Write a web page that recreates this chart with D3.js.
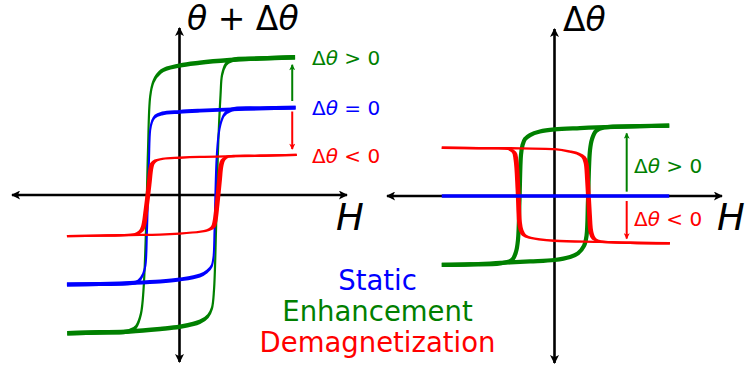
<!DOCTYPE html>
<html>
<head>
<meta charset="utf-8">
<script src="https://cdn.jsdelivr.net/npm/d3@7"></script>
<style>
  html, body { margin: 0; padding: 0; background: #fff; }
  svg { display: block; }
  text { font-family: "DejaVu Sans", Verdana, sans-serif; }
</style>
</head>
<body>
<svg id="chart" width="745" height="367"></svg>
<script>
// ---- Data (arbitrary field / angle units, origin at the axis crossing) ----

// Left panel: total angle theta + delta-theta versus H
const leftGreenDown = [[69,82.5],[48,81.8],[30,80.8],[12,79.2],[0,77.5],[-11,74],[-15.5,68],[-17.5,59],[-18.8,27],[-20,-21],[-21.5,-57],[-23,-71],[-26,-79],[-30,-81.5],[-48,-82.2],[-67,-82.8]];
const leftGreenUp   = [[-67,-82.8],[-47.5,-82.3],[-29.6,-81.7],[-11.6,-80.2],[0,-78.9],[12.2,-75.9],[17,-72.5],[19.4,-67.7],[20.6,-56.9],[21.8,-21],[23,27],[24.5,59.9],[25.4,71.9],[27.8,78.4],[31.3,80.8],[48,81.7],[69,82.5]];

const leftBlueDown = [[69.3,52.3],[48.1,51.9],[31.3,51.3],[12.2,50.5],[0,49.8],[-10.4,48.8],[-14.6,47],[-16.4,44],[-17.5,38.9],[-18.2,21],[-19.4,-21],[-20.3,-41.9],[-21.8,-47.6],[-24.8,-51.8],[-29.6,-52.9],[-47.5,-53.3],[-67.2,-53.6]];
const leftBlueUp   = [[-67.2,-53.6],[-47.5,-53.3],[-29.6,-52.7],[-11.6,-51.8],[0,-50.6],[12.2,-48.2],[16.4,-45.8],[19.2,-42.5],[20.3,-37.1],[20.9,-21],[22.1,21],[23.3,35.9],[24.5,42.5],[26.6,47.9],[31.3,51.2],[48.1,51.9],[69.3,52.3]];

const leftRedDown = [[70,24],[48.1,23.5],[30.1,23.2],[12.2,22.8],[0,22.3],[-9.9,21.7],[-14,20.7],[-16.1,18.9],[-17,16.2],[-18.2,6],[-20,-9],[-21.5,-18.6],[-23,-21.6],[-26,-23.4],[-35.5,-24.1],[-47.5,-24.3],[-67.2,-24.6]];
const leftRedUp   = [[-67.2,-24.6],[-47.5,-24.3],[-29.6,-24],[-11.6,-23.7],[0,-23.1],[12.2,-22],[17,-21],[20,-19.2],[21.2,-15.6],[22.4,-6],[23.9,9],[24.8,17.4],[26,21],[28.4,22.8],[33.1,23.4],[48.1,23.5],[70,24]];

// Right panel: delta-theta versus H
const rightGreenDown = [[68.5,42.1],[51,41.8],[30.1,41.3],[15.2,40.7],[0,39.9],[-8.7,38.6],[-14.6,36.5],[-17.6,34.1],[-19.1,30.5],[-20,24.6],[-20.9,-2.4],[-21.8,-26.3],[-23,-33.5],[-25.4,-38.3],[-32.5,-40.4],[-50.4,-41],[-67.3,-41.3]];
const rightGreenUp   = [[-67.3,-41.3],[-50.4,-41],[-32.5,-40.1],[-14.6,-39.2],[0,-38.3],[9.3,-36.5],[14,-34.4],[17.6,-29.9],[19.1,-24],[20,-2.4],[21.2,27.5],[22.4,34.1],[24.8,38.9],[29.6,41],[51,41.8],[68.5,42.1]];

const rightRedUp   = [[-67.3,28.9],[-44.5,28.7],[-26.6,28.6],[0,28],[9.3,26.6],[14,25.4],[17.3,23.4],[18.8,19.8],[19.7,9.6],[20.9,-11.4],[21.8,-21.6],[23.6,-25.7],[27.2,-27.2],[45.1,-28],[68.9,-28.3]];
const rightRedDown = [[68.9,-28.3],[45.1,-28],[27.2,-27.5],[0,-26.8],[-14.6,-25],[-18.2,-23.4],[-20,-20.4],[-20.9,-15.6],[-21.8,3.6],[-23,21.6],[-24.2,26.3],[-27.2,28.1],[-38.5,28.5],[-67.3,28.9]];

const rightBlue = [[-67.3,0],[68.5,0]];

// Change indicators: [H, from, to, colour]
const leftArrows  = [[67.3, 56.3, 78, "green"], [67.3, 50, 27.5, "red"]];
const rightArrows = [[43.1, 2.6, 37.5, "green"], [43.1, -3, -25.5, "red"]];

// Labels: [prefix, italic symbol, relation, baseline value, colour]
const leftLabels  = [["Δ", "θ", " > 0", 77.8, "green"], ["Δ", "θ", " = 0", 48.2, "blue"], ["Δ", "θ", " < 0", 19.2, "red"]];
const rightLabels = [["Δ", "θ", " > 0", 13.8, "green"], ["Δ", "θ", " < 0", -18.2, "red"]];
const legendNames = ["Static", "Enhancement", "Demagnetization"];
const legendColors = ["blue", "green", "red"];

const COLORS = { green: "#008000", blue: "#0000ff", red: "#ff0000" };

// ---- Scales ----
const xL = d3.scaleLinear().domain([-100, 100]).range([12, 347]);
const yL = d3.scaleLinear().domain([-100, 100]).range([362, 28]);
const xR = d3.scaleLinear().domain([-100, 100]).range([387, 722]);
const yR = d3.scaleLinear().domain([-100, 100]).range([363, 29]);

const svg = d3.select("#chart");

// Arrowhead markers
const defs = svg.append("defs");
function marker(id, color, w, h) {
  defs.append("marker")
    .attr("id", id)
    .attr("viewBox", "0 -5 10 10")
    .attr("refX", 9).attr("refY", 0)
    .attr("markerUnits", "userSpaceOnUse")
    .attr("markerWidth", w).attr("markerHeight", h)
    .attr("orient", "auto-start-reverse")
    .append("path")
    .attr("d", "M0,-5L10,0L0,5L2.5,0Z")
    .attr("fill", color);
}
marker("axisHead", "#000", 14, 9);
marker("greenHead", COLORS.green, 9, 6);
marker("redHead", COLORS.red, 9, 6);

// Double-headed axes
function axes(xs, ys) {
  const g = svg.append("g");
  g.append("line")
    .attr("x1", xs(-100)).attr("x2", xs(100))
    .attr("y1", ys(0)).attr("y2", ys(0))
    .attr("stroke", "#000").attr("stroke-width", 2.6)
    .attr("marker-start", "url(#axisHead)").attr("marker-end", "url(#axisHead)");
  g.append("line")
    .attr("x1", xs(0)).attr("x2", xs(0))
    .attr("y1", ys(-100)).attr("y2", ys(100))
    .attr("stroke", "#000").attr("stroke-width", 2.6)
    .attr("marker-start", "url(#axisHead)").attr("marker-end", "url(#axisHead)");
}

// Loop branches; the stroke is thicker along one direction than the other,
// so each loop is drawn in a group stretched by (vertical-run width, horizontal-run width)
function loop(xs, ys, branches, color, wV, wH) {
  const grp = svg.append("g").attr("transform", `scale(${wV},${wH})`);
  const line = d3.line()
    .x(d => xs(d[0]) / wV)
    .y(d => ys(d[1]) / wH)
    .curve(d3.curveCatmullRom.alpha(0.5));
  branches.forEach(b => {
    grp.append("path")
      .attr("d", line(b))
      .attr("fill", "none")
      .attr("stroke", COLORS[color])
      .attr("stroke-width", 1)
      .attr("stroke-linejoin", "round");
  });
}

function arrows(xs, ys, list) {
  list.forEach(([h, a, b, c]) => {
    svg.append("line")
      .attr("x1", xs(h)).attr("x2", xs(h))
      .attr("y1", ys(a)).attr("y2", ys(b))
      .attr("stroke", COLORS[c]).attr("stroke-width", 2)
      .attr("marker-end", `url(#${c}Head)`);
  });
}

function labels(x, ys, list) {
  list.forEach(([d, t, rest, m, c]) => {
    const tx = svg.append("text")
      .attr("x", x).attr("y", ys(m))
      .attr("font-size", 20)
      .attr("fill", COLORS[c]);
    tx.append("tspan").text(d);
    tx.append("tspan").attr("font-style", "italic").text(t);
    tx.append("tspan").text(rest);
  });
}

// ---- Left panel ----
axes(xL, yL);
loop(xL, yL, [leftGreenDown, leftGreenUp], "green", 2.2, 4.4);
loop(xL, yL, [leftBlueDown, leftBlueUp], "blue", 2.0, 3.9);
loop(xL, yL, [leftRedDown, leftRedUp], "red", 4.8, 2.3);
arrows(xL, yL, leftArrows);
labels(312, yL, leftLabels);

// ---- Right panel ----
axes(xR, yR);
loop(xR, yR, [rightGreenDown, rightGreenUp], "green", 4.2, 4.2);
loop(xR, yR, [rightRedUp, rightRedDown], "red", 4.8, 2.3);
loop(xR, yR, [rightBlue], "blue", 3.6, 3.6);
arrows(xR, yR, rightArrows);
labels(634, yR, rightLabels);

// Axis titles
const t1 = svg.append("text").attr("x", 187).attr("y", 29.5).attr("font-size", 33);
t1.append("tspan").attr("font-style", "italic").text("θ");
t1.append("tspan").text(" + Δ");
t1.append("tspan").attr("font-style", "italic").text("θ");

const t2 = svg.append("text").attr("x", 563).attr("y", 30.5).attr("font-size", 33);
t2.append("tspan").text("Δ");
t2.append("tspan").attr("font-style", "italic").text("θ");

svg.append("text").attr("x", 336).attr("y", 230).attr("font-size", 37)
  .attr("font-style", "italic").text("H");
svg.append("text").attr("x", 717).attr("y", 230).attr("font-size", 37)
  .attr("font-style", "italic").text("H");

// Legend
svg.append("g").selectAll("text")
  .data(legendNames)
  .join("text")
  .attr("x", 377.5)
  .attr("y", (d, i) => 290 + i * 31)
  .attr("text-anchor", "middle")
  .attr("font-size", 27.5)
  .attr("fill", (d, i) => COLORS[legendColors[i]])
  .text(d => d);
</script>
</body>
</html>
